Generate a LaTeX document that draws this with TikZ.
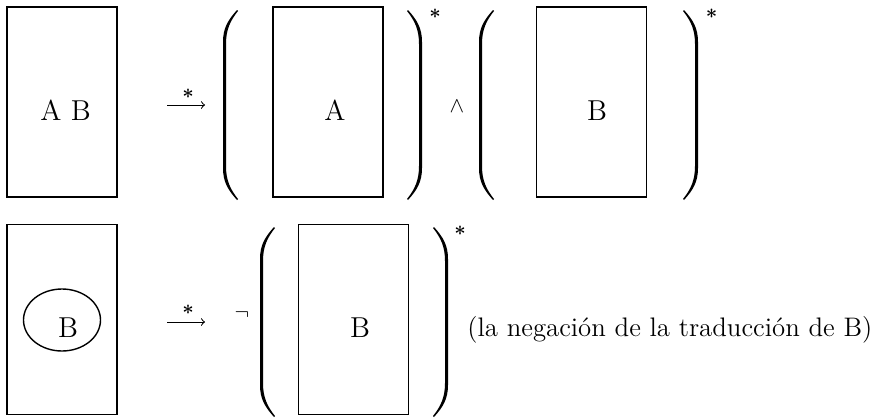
\documentclass[tikz,border=0pt]{standalone}
\usetikzlibrary{shapes.geometric}
\begin{document}
\begin{tikzpicture}[x=0.5pt,y=-0.5pt,
  boxnode/.style={draw,line width=0.9pt,minimum width=55pt,minimum height=95pt,inner sep=0pt},
  ovalnode/.style={draw,ellipse,line width=0.7pt,minimum width=38.5pt,minimum height=31pt,inner sep=0pt},
  letter/.style={font=\fontsize{14.4}{16}\selectfont,inner sep=0pt,anchor=base},
  plaintext/.style={font=\fontsize{13.4}{16}\selectfont,inner sep=0pt,anchor=base west},
  starlbl/.style={font=\fontsize{10}{12}\selectfont\boldmath,inner sep=0pt},
  oplbl/.style={font=\fontsize{11}{13}\selectfont,inner sep=0pt},
  mapto/.style={->,line width=0.5pt},
  lparen/.pic={\fill (14,0) .. controls (5,10) and (0,18) .. (0,32) -- (0,158) .. controls (0,172) and (5,180) .. (14,190) -- (15,189) .. controls (7,179) and (3,170) .. (3,156) -- (3,34) .. controls (3,20) and (7,11) .. (15,1) -- cycle;}]
\useasboundingbox (0,0) rectangle (892,418);
% top row
\node[boxnode] (b1) at (62,102) {};
\node[letter] (t1) at (65.5,120) {A B};
\coordinate (a1s) at (167,105);
\coordinate (a1e) at (205,105);
\draw[mapto] (a1s) -- (a1e);
\node[starlbl] (s1) at (188,94) {$\ast$};
\pic at (223,10) {lparen};
\node[boxnode] (b2) at (328,102) {};
\node[letter] (t2) at (335,120) {A};
\pic[xscale=-1] at (422,10) {lparen};
\node[starlbl] (s2) at (435,14) {$\ast$};
\node[oplbl] (w) at (457,106) {$\wedge$};
\pic at (479,10) {lparen};
\node[boxnode] (b3) at (591.5,102) {};
\node[letter] (t3) at (597,120) {B};
\pic[xscale=-1] at (698,10) {lparen};
\node[starlbl] (s3) at (711.5,14) {$\ast$};
% bottom row
\node[boxnode] (b4) at (62,319.5) {};
\node[ovalnode] (e) at (62,320) {};
\node[letter] (t4) at (68,337) {B};
\coordinate (a2s) at (167,322);
\coordinate (a2e) at (205,322);
\draw[mapto] (a2s) -- (a2e);
\node[starlbl] (s4) at (188,309.5) {$\ast$};
\node[oplbl] (n) at (242,315) {$\neg$};
\pic at (260,227) {lparen};
\node[boxnode] (b5) at (353.5,319.5) {};
\node[letter] (t5) at (360,337) {B};
\pic[xscale=-1] at (448,227) {lparen};
\node[starlbl] (s5) at (460,231) {$\ast$};
\node[plaintext] (txt) at (467,336) {(la negación de la traducción de B)};
\end{tikzpicture}
\end{document}
